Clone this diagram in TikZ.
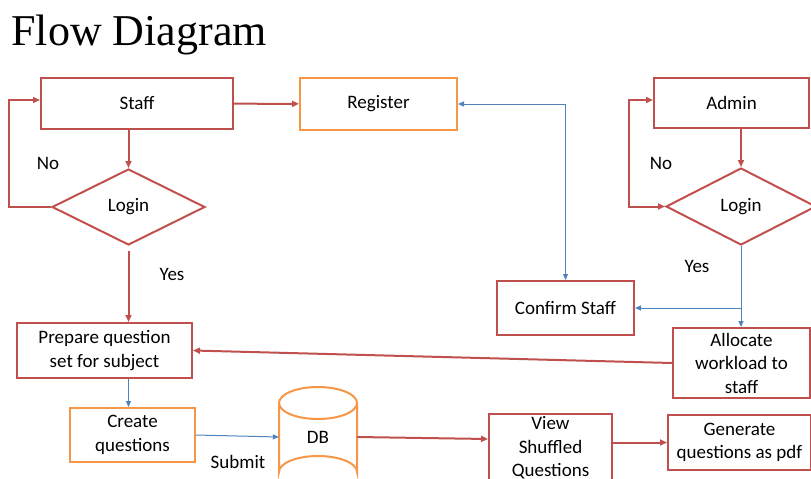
\documentclass[tikz,border=0pt]{standalone}
\usepackage{fontspec}
\setmainfont{Carlito}
\newfontfamily\titlefont{Liberation Serif}
\usetikzlibrary{arrows.meta,shapes.geometric}
\definecolor{boxred}{HTML}{C0504D}
\definecolor{boxorange}{HTML}{F79646}
\definecolor{lineblue}{HTML}{4F81BD}
\tikzset{
	redbox/.style={draw=boxred, line width=2pt, align=center, inner sep=0pt},
	orangebox/.style={draw=boxorange, line width=2pt, align=center, inner sep=0pt},
	loginbox/.style={diamond, draw=boxred, line width=2pt, inner sep=0pt},
	redarrow/.style={draw=boxred, line width=2pt, -{Triangle[length=7pt,width=6pt]}},
	bluearrow/.style={draw=lineblue, line width=1pt, -{Triangle[length=6pt,width=5pt]}},
	tag/.style={inner sep=1pt}
}
\begin{document}
\begin{tikzpicture}[x=1pt, y=-1pt, font=\fontsize{19}{23.5}\selectfont]
				\useasboundingbox (0,0) rectangle (811,479);
				\node[anchor=base west, font=\titlefont\fontsize{44}{50}\selectfont] (title) at (8,45) {Flow Diagram};
				% staff side
				\node[redbox, minimum width=192, minimum height=51] (staff) at (137,103.5) {Staff};
				\node[orangebox, minimum width=157, minimum height=52] (register) at (378.5,104) {Register};
				\node[loginbox, minimum width=153, minimum height=76] (login1) at (128.5,207) {Login};
				\node[redbox, minimum width=175, minimum height=55] (prepare) at (104.5,350.5) {Prepare question\\set for subject};
				\node[orangebox, minimum width=125, minimum height=54] (create) at (132.5,435) {Create\\questions};
				% admin side
				\node[redbox, minimum width=155, minimum height=50] (admin) at (731.5,103) {Admin};
				\node[loginbox, minimum width=150, minimum height=77] (login2) at (741,206.5) {Login};
				\node[redbox, minimum width=137, minimum height=54] (confirm) at (565.5,308) {Confirm Staff};
				\node[redbox, minimum width=137, minimum height=70] (allocate) at (741.5,363) {Allocate\\workload to\\staff};
				% database and output
				\draw[boxorange, line width=2pt] (279,403) -- (279,472) arc[start angle=180, end angle=360, x radius=39, y radius=16] -- (357,403);
				\draw[boxorange, line width=2pt] (318,403) ellipse[x radius=39, y radius=16];
				\node[minimum width=78, minimum height=50] (db) at (318,437) {DB};
				\node[redbox, minimum width=123, minimum height=68] (view) at (550.5,448) {View\\Shuffled\\Questions};
				\node[redbox, minimum width=143, minimum height=55] (generate) at (739.5,442.5) {Generate\\questions as pdf};
				% labels
				\node[tag] (no1) at (48,163) {No};
				\node[tag] (yes1) at (172,274) {Yes};
				\node[tag] (no2) at (661,163) {No};
				\node[tag] (yes2) at (697,266) {Yes};
				\node[tag] (submit) at (238,462) {Submit};
				% connectors
				\draw[redarrow] (staff) -- (register);
				\draw[redarrow] (staff.south -| login1.north) -- (login1.north);
				\draw[redarrow] (login1.west) -- ++(-42,0) |- ([yshift=3.5pt]staff.west);
				\draw[redarrow] ([yshift=-5pt]login1.south) -- (login1.south |- prepare.north);
				\draw[bluearrow, {Triangle[length=6pt,width=5pt]}-{Triangle[length=6pt,width=5pt]}] (register.east) -| (confirm.north);
				\draw[redarrow] (admin.south -| login2.north) -- (login2.north);
				\draw[redarrow, {Triangle[length=7pt,width=6pt]}-{Triangle[length=7pt,width=6pt]}] (login2.west) -- ++(-36,0) |- ([yshift=3pt]admin.west);
				\draw[bluearrow] (login2.south) -- (login2.south |- allocate.north);
				\draw[bluearrow] (login2.south |- confirm.east) -- (confirm.east);
				\draw[redarrow] (allocate.west) -- (prepare.east);
				\draw[bluearrow] (prepare.south -| login1.south) -- (create.north -| login1.south);
				\draw[bluearrow] (create.east) -- (db.west);
				\draw[redarrow] (db.east) -- ([yshift=9pt]view.west);
				\draw[redarrow] (view.east |- generate.west) -- (generate.west);
\end{tikzpicture}
\end{document}
